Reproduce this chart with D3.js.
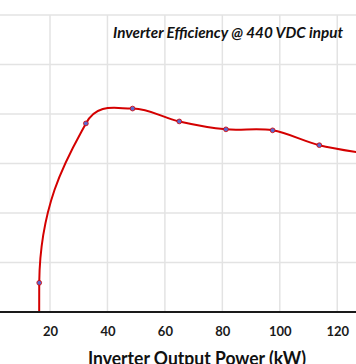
<!DOCTYPE html>
<html>
<head>
<meta charset="utf-8">
<script src="https://cdn.jsdelivr.net/npm/d3@7/dist/d3.min.js"></script>
<style>
  html, body { margin: 0; padding: 0; background: #fff; }
  svg { display: block; }
</style>
</head>
<body>
<svg id="chart" width="356" height="364"></svg>
<script>
// Data (inverter output power in kW, efficiency in %)
const powerKW = [16.25, 16.25, 32.5, 48.75, 65, 81.25, 97.5, 113.75, 130];
const efficiency = [0, 92.59, 95.81, 96.11, 95.85, 95.69, 95.67, 95.37, 95.2];
const xTicks = [20, 40, 60, 80, 100, 120];
const yGrid = [92, 93, 94, 95, 96, 97, 98];
const titleText = "Inverter Efficiency @ 440 VDC input";
const xTitle = "Inverter Output Power (kW)";

const W = 356, H = 364;
const svg = d3.select("#chart");
const plotTop = 15, plotBottom = 312, plotLeft = 0, plotRight = 356;

const x = d3.scaleLinear().domain([0, 120]).range([-7.45, 337.25]);
const y = d3.scaleLinear().domain([92, 98]).range([plotBottom, plotTop]);

// gridlines
svg.append("g").selectAll("line.h").data(yGrid.filter(v => v > 92)).join("line")
  .attr("x1", plotLeft).attr("x2", plotRight)
  .attr("y1", d => y(d)).attr("y2", d => y(d))
  .attr("stroke", "#e3e3e3").attr("stroke-width", 1.5);
svg.append("g").selectAll("line.v").data(xTicks).join("line")
  .attr("x1", d => x(d)).attr("x2", d => x(d))
  .attr("y1", plotTop).attr("y2", plotBottom)
  .attr("stroke", "#e3e3e3").attr("stroke-width", 1.5);

// clip
svg.append("clipPath").attr("id", "clip").append("rect")
  .attr("x", plotLeft).attr("y", plotTop - 5)
  .attr("width", plotRight - plotLeft).attr("height", plotBottom - plotTop + 5);

const pts = powerKW.map((p, i) => ({ p, e: efficiency[i] }));

// Spreadsheet-style smoothed line (Bezier with capped 1/6 control points)
function smoothPath(data) {
  const P = data.map(d => [x(d.p), y(d.e)]);
  const path = d3.path();
  const dist = (a, b) => Math.hypot(b[0] - a[0], b[1] - a[1]);
  path.moveTo(P[0][0], P[0][1]);
  for (let i = 0; i < P.length - 1; i++) {
    const p0 = P[Math.max(0, i - 1)], p1 = P[i], p2 = P[i + 1], p3 = P[Math.min(P.length - 1, i + 2)];
    const d12 = dist(p1, p2), d02 = dist(p0, p2), d13 = dist(p1, p3);
    let f1 = 1 / 6, f2 = 1 / 6;
    if (d02 / 6 >= d12 / 2 && d02 > 0) f1 = d12 / (2 * d02);
    if (d13 / 6 >= d12 / 2 && d13 > 0) f2 = d12 / (2 * d13);
    const c1 = [p1[0] + (p2[0] - p0[0]) * f1, p1[1] + (p2[1] - p0[1]) * f1];
    const c2 = [p2[0] - (p3[0] - p1[0]) * f2, p2[1] - (p3[1] - p1[1]) * f2];
    path.bezierCurveTo(c1[0], c1[1], c2[0], c2[1], p2[0], p2[1]);
  }
  return path.toString();
}

svg.append("path")
  .attr("clip-path", "url(#clip)")
  .attr("d", smoothPath(pts))
  .attr("fill", "none")
  .attr("stroke", "#d40000")
  .attr("stroke-width", 2);

// markers (only points inside the axis range)
svg.append("g").attr("clip-path", "url(#clip)")
  .selectAll("circle").data(pts.filter(d => d.e >= 92)).join("circle")
  .attr("cx", d => x(d.p)).attr("cy", d => y(d.e)).attr("r", 2.4)
  .attr("fill", "#5a6ad0").attr("stroke", "#d40000").attr("stroke-width", 0.8);

// x axis line
svg.append("line").attr("x1", 0).attr("x2", W)
  .attr("y1", plotBottom).attr("y2", plotBottom)
  .attr("stroke", "#1a1a1a").attr("stroke-width", 2);

// tick labels
const xAxis = d3.axisBottom(x).tickValues(xTicks).tickSize(0).tickPadding(0);
const ax = svg.append("g").attr("transform", `translate(0,${plotBottom})`).call(xAxis);
ax.select(".domain").remove();
ax.selectAll("text")
  .attr("y", 24).attr("dy", null)
  .attr("font-family", "Lato, 'Open Sans', sans-serif")
  .attr("font-weight", "bold").attr("font-size", 13).attr("fill", "#1a1a1a");

// title
svg.append("text").attr("x", 113).attr("y", 37.5)
  .attr("font-family", "Lato, 'Open Sans', sans-serif")
  .attr("font-weight", "bold").attr("font-style", "italic")
  .attr("font-size", 14.5).attr("fill", "#111")
  .attr("textLength", 230).attr("lengthAdjust", "spacingAndGlyphs")
  .text(titleText);

// x axis title
svg.append("text").attr("x", 88).attr("y", 364.5)
  .attr("font-family", "Lato, 'Open Sans', sans-serif")
  .attr("font-weight", "bold").attr("font-size", 18).attr("fill", "#111")
  .attr("textLength", 218).attr("lengthAdjust", "spacingAndGlyphs")
  .text(xTitle);
</script>
</body>
</html>
